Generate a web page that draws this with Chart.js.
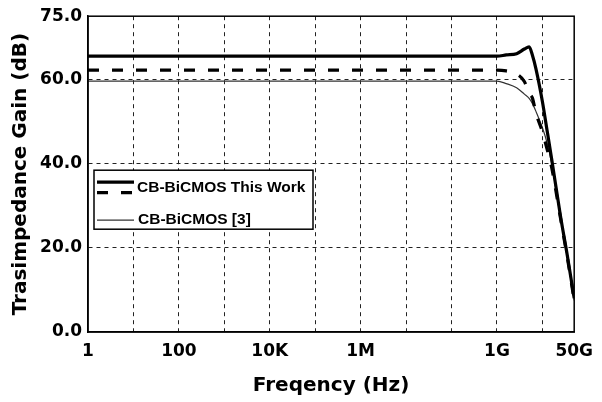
<!DOCTYPE html>
<html>
<head>
<meta charset="utf-8">
<script src="https://cdn.jsdelivr.net/npm/chart.js@4.4.1/dist/chart.umd.min.js"></script>
<style>
  html, body { margin: 0; padding: 0; background: #fff; }
</style>
</head>
<body>
<canvas id="gainChart" width="602" height="402"></canvas>
<script>
// values (frequency in Hz, gain in dB)
const freqs = [1, 1e9, 1.6e9, 2.7e9, 4e9, 5.1e9, 6e9, 7.2e9, 1e10, 1.26e10, 1.6e10, 2.5e10, 3.55e10, 5e10];
const gainThisWork = [65.5, 65.5, 65.8, 66.1, 67.2, 67.7, 65.8, 62.5, 54.7, 48, 41, 27.5, 18, 8];
const gainThisWorkDash = [62.2, 62.2, 62.0, 61.3, 59.5, 56.7, 55.6, 52, 47.5, 43.5, 39, 27, 17.5, 7.5];
const gainRef3 = [59.6, 59.6, 59.0, 58.0, 56.5, 55.5, 54.3, 52.4, 48.5, 45, 40, 27, 17.5, 7.5];
const xTicks = [1, 10, 100, 1e3, 1e4, 1e5, 1e6, 1e7, 1e8, 1e9, 1e10, 5e10];
const xTickLabels = { 1: '1', 100: '100', 10000: '10K', 1000000: '1M', 1000000000: '1G', 50000000000: '50G' };
const yTicks = [0, 20, 40, 60, 75];
const labelThisWork = 'CB-BiCMOS This Work';
const labelRef3 = 'CB-BiCMOS [3]';

const toPoints = vals => freqs.map((f, i) => ({ x: f, y: vals[i] }));
const axisFont = { family: 'DejaVu Sans', weight: 'bold', size: 17 };
const titleFont = { family: 'DejaVu Sans', weight: 'bold', size: 20 };

// box around the plot + legend inside it
const frameAndLegend = {
    id: 'frameAndLegend',
    afterDraw(chart) {
        const { ctx, chartArea: a } = chart;
        ctx.save();
        ctx.setLineDash([]);
        ctx.strokeStyle = '#000';
        ctx.lineWidth = 1.5;
        ctx.strokeRect(a.left, a.top, a.right - a.left, a.bottom - a.top);

        const bx = a.left + 6, by = a.top + 154, bw = 219, bh = 59;
        ctx.fillStyle = '#fff';
        ctx.fillRect(bx, by, bw, bh);
        ctx.strokeRect(bx, by, bw, bh);

        const ds = chart.data.datasets;
        const sample = (d, y) => {
            ctx.beginPath();
            ctx.strokeStyle = d.borderColor;
            ctx.lineWidth = d.borderWidth;
            ctx.setLineDash(d.borderDash || []);
            ctx.moveTo(bx + 3, y);
            ctx.lineTo(bx + 40, y);
            ctx.stroke();
        };
        sample(ds[0], by + 12);
        sample(ds[1], by + 22.5);
        sample(ds[2], by + 50);

        ctx.setLineDash([]);
        ctx.fillStyle = '#000';
        ctx.font = 'bold 15.5px "Liberation Sans", Arial, sans-serif';
        ctx.textBaseline = 'middle';
        ctx.fillText(ds[0].label, bx + 43, by + 17.5);
        ctx.fillText(ds[2].label, bx + 44, by + 50);
        ctx.restore();
    }
};

const edgeTransparent = (edges) => ctx => edges.includes(ctx.tick.value) ? 'rgba(0,0,0,0)' : '#222';

new Chart(document.getElementById('gainChart').getContext('2d'), {
    type: 'line',
    data: {
        datasets: [{
            label: labelThisWork,
            data: toPoints(gainThisWork),
            borderColor: '#000',
            borderWidth: 3.2,
            pointRadius: 0,
            cubicInterpolationMode: 'monotone'
        }, {
            label: labelThisWork,
            data: toPoints(gainThisWorkDash),
            borderColor: '#000',
            borderWidth: 3.2,
            borderDash: [11, 13],
            pointRadius: 0,
            cubicInterpolationMode: 'monotone'
        }, {
            label: labelRef3,
            data: toPoints(gainRef3),
            borderColor: '#333',
            borderWidth: 1.2,
            pointRadius: 0,
            cubicInterpolationMode: 'monotone'
        }]
    },
    options: {
        responsive: false,
        animation: false,
        devicePixelRatio: 1,
        layout: { padding: { top: 14, right: 27, bottom: 0, left: 0 } },
        plugins: {
            legend: { display: false },
            tooltip: { enabled: false }
        },
        scales: {
            x: {
                type: 'logarithmic',
                min: 1,
                max: 5e10,
                afterBuildTicks: s => { s.ticks = xTicks.map(v => ({ value: v })); },
                afterFit: s => { s.height = 70; },
                border: { color: '#000', width: 1.5, dash: [4, 4] },
                grid: { drawTicks: false, lineWidth: 1, color: edgeTransparent([1, 5e10]) },
                ticks: {
                    autoSkip: false,
                    maxRotation: 0,
                    padding: 9,
                    color: '#000',
                    font: axisFont,
                    callback: v => xTickLabels[v] || ''
                },
                title: {
                    display: true,
                    text: 'Freqency (Hz)',
                    color: '#000',
                    font: titleFont,
                    padding: { top: 0, bottom: 4 }
                }
            },
            y: {
                min: 0,
                max: 75,
                afterBuildTicks: s => { s.ticks = yTicks.map(v => ({ value: v })); },
                afterFit: s => { s.width = 88; },
                border: { color: '#000', width: 1.5, dash: [4, 4] },
                grid: { drawTicks: false, lineWidth: 1, color: edgeTransparent([0, 75]) },
                ticks: {
                    padding: 6,
                    color: '#000',
                    font: axisFont,
                    callback: v => v.toFixed(1)
                },
                title: {
                    display: true,
                    text: 'Trasimpedance Gain (dB)',
                    color: '#000',
                    font: titleFont,
                    padding: { top: 9, bottom: 0 }
                }
            }
        }
    },
    plugins: [frameAndLegend]
});
</script>
</body>
</html>
